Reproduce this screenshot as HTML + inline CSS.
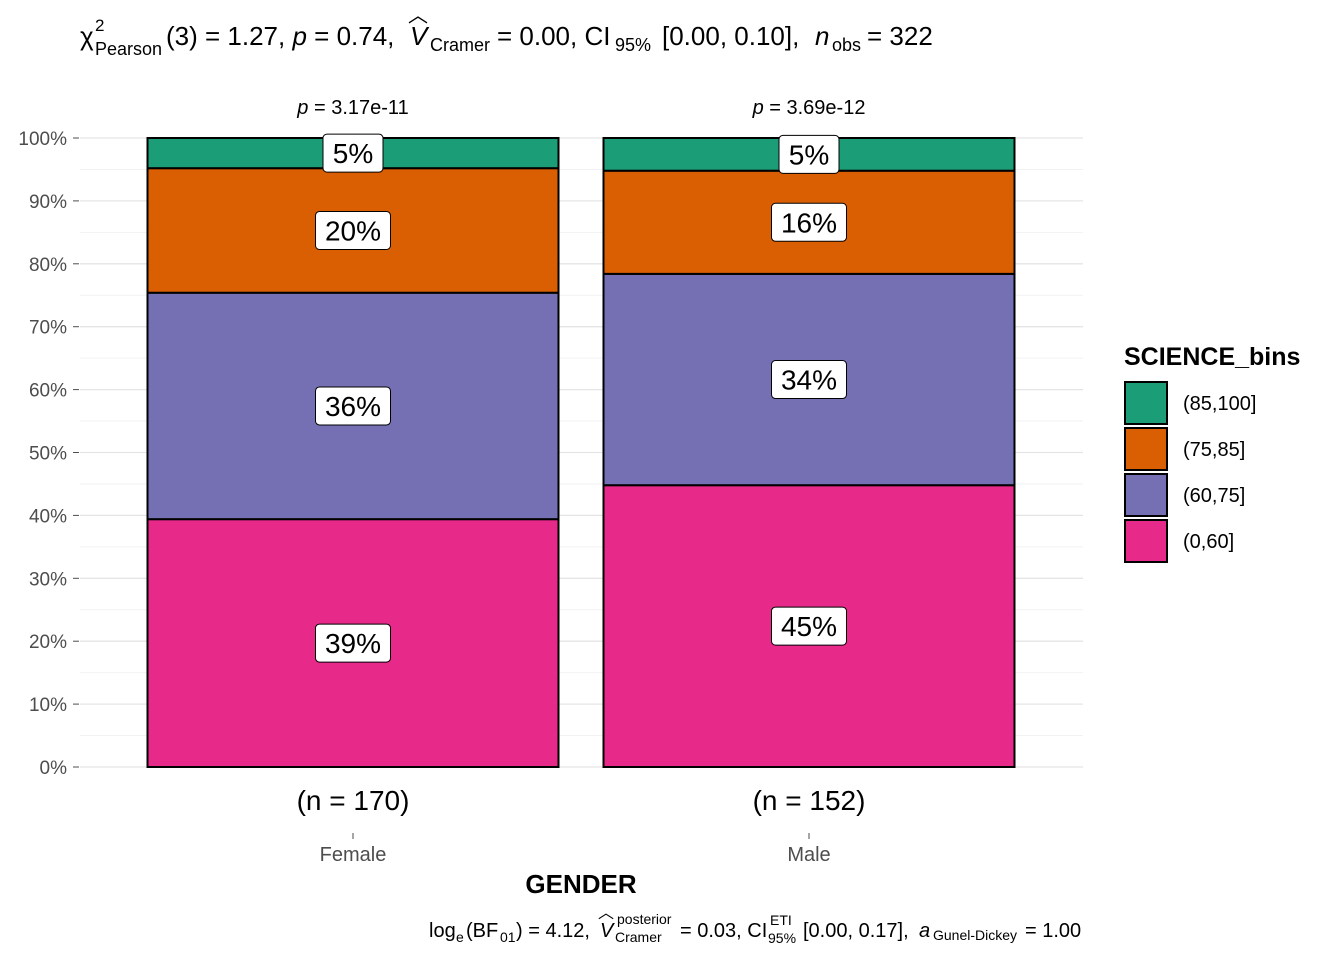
<!DOCTYPE html>
<html><head><meta charset="utf-8"><style>
body{margin:0;background:#fff;font-family:"Liberation Sans",sans-serif}
svg text{font-family:"Liberation Sans",sans-serif}
</style></head><body>
<svg id="chart" width="1344" height="960" xmlns="http://www.w3.org/2000/svg">
<g font-size="26" fill="#000">
<text x="80" y="45">χ</text>
<text x="95" y="31" font-size="17">2</text>
<text x="95" y="55" font-size="18">Pearson</text>
<text x="166" y="45">(3) = 1.27, <tspan font-style="italic">p</tspan> = 0.74,</text>
<text x="410" y="45" font-style="italic">V</text>
<text x="408" y="22" font-size="20">︿</text>
<text x="430" y="51" font-size="18">Cramer</text>
<text x="497" y="45">= 0.00, CI</text>
<text x="615" y="51" font-size="18">95%</text>
<text x="662" y="45">[0.00, 0.10],</text>
<text x="815" y="45" font-style="italic">n</text>
<text x="832" y="51" font-size="18">obs</text>
<text x="867" y="45">= 322</text>
</g>
<g id="grid"></g><g id="bars"></g><g id="labels"></g><g id="axes"></g>
<text x="581" y="893" font-size="26" font-weight="bold" text-anchor="middle">GENDER</text>
<g font-size="20" fill="#000">
<text x="429" y="937">log</text>
<text x="456" y="942" font-size="14">e</text>
<text x="466" y="937">(BF</text>
<text x="500" y="942" font-size="14">01</text>
<text x="516" y="937">) = 4.12,</text>
<text x="600" y="937" font-style="italic">V</text>
<text x="598" y="918" font-size="16">︿</text>
<text x="617" y="924" font-size="14">posterior</text>
<text x="615" y="942" font-size="14">Cramer</text>
<text x="680" y="937">= 0.03, CI</text>
<text x="770" y="925" font-size="14">ETI</text>
<text x="768" y="943" font-size="14">95%</text>
<text x="803" y="937">[0.00, 0.17],</text>
<text x="919" y="937" font-style="italic">a</text>
<text x="933" y="940" font-size="14">Gunel-Dickey</text>
<text x="1025" y="937">= 1.00</text>
</g>
<g id="legend">
<text x="1124" y="365" font-size="25" font-weight="bold">SCIENCE_bins</text>
</g>
</svg>
<script>
const categories=["Female","Male"];
const counts=["(n = 170)","(n = 152)"];
const pvals=["3.17e-11","3.69e-12"];
const bins=["(0,60]","(60,75]","(75,85]","(85,100]"];
const femaleVals=[39.4,36.0,19.8,4.8];
const maleVals=[44.8,33.6,16.4,5.2];
const yTicks=[0,10,20,30,40,50,60,70,80,90,100];
const colors=["#E7298A","#7570B3","#D95F02","#1B9E77"];
const NS="http://www.w3.org/2000/svg";
const y0=767,y1=138;
const ys=v=>y0-(y0-y1)*v/100;
const xc=i=>353+i*456;
const bw=411;
function mk(tag,attrs,parent,txt){const e=document.createElementNS(NS,tag);for(const k in attrs)e.setAttribute(k,attrs[k]);if(txt!==undefined)e.textContent=txt;parent.appendChild(e);return e;}
const grid=document.getElementById('grid'),bars=document.getElementById('bars'),labels=document.getElementById('labels'),axes=document.getElementById('axes'),legend=document.getElementById('legend');
for(let t=0;t<=100;t+=5){const g=mk('line',{x1:80,x2:1083,y1:ys(t),y2:ys(t),stroke:t%10?'#f2f2f2':'#e5e5e5','stroke-width':t%10?1:1.3},grid);

}
yTicks.forEach(t=>{const l=mk('text',{x:67,y:ys(t)+7,'font-size':19,'text-anchor':'end',fill:'#4d4d4d'},axes,t+'%');


const tk=mk('line',{x1:73,x2:79,y1:ys(t),y2:ys(t),stroke:'#4d4d4d'},axes);

});
[femaleVals,maleVals].forEach((vals,i)=>{let cum=0;
vals.forEach((v,j)=>{const top=ys(cum+v),bot=ys(cum);
const r=mk('rect',{x:xc(i)-bw/2,y:top,width:bw,height:bot-top,fill:colors[j],stroke:'#000','stroke-width':2},bars);


const cy=(top+bot)/2,txt=Math.round(v)+'%',w=txt.length*15+30;
const lb=mk('rect',{x:xc(i)-w/2,y:cy-19,width:w,height:38,rx:4,fill:'#fff',stroke:'#000','stroke-width':1},labels);


const lt=mk('text',{x:xc(i),y:cy+10,'font-size':28,'text-anchor':'middle'},labels,txt);


cum+=v;});
const p=mk('text',{x:xc(i),y:114,'font-size':20,'text-anchor':'middle'},axes);
p.innerHTML='<tspan font-style="italic">p</tspan> = '+pvals[i];


const n=mk('text',{x:xc(i),y:810,'font-size':28,'text-anchor':'middle'},axes,counts[i]);


const tk=mk('line',{x1:xc(i),x2:xc(i),y1:833,y2:839,stroke:'#4d4d4d'},axes);


const c=mk('text',{x:xc(i),y:861,'font-size':20,'text-anchor':'middle',fill:'#4d4d4d'},axes,categories[i]);

});
for(let k=0;k<4;k++){const j=3-k,y=382+k*46;
const r=mk('rect',{x:1125,y:y,width:42,height:42,fill:colors[j],stroke:'#000','stroke-width':2},legend);


const t=mk('text',{x:1183,y:y+28,'font-size':20},legend,bins[j]);

}
</script>
</body></html>
